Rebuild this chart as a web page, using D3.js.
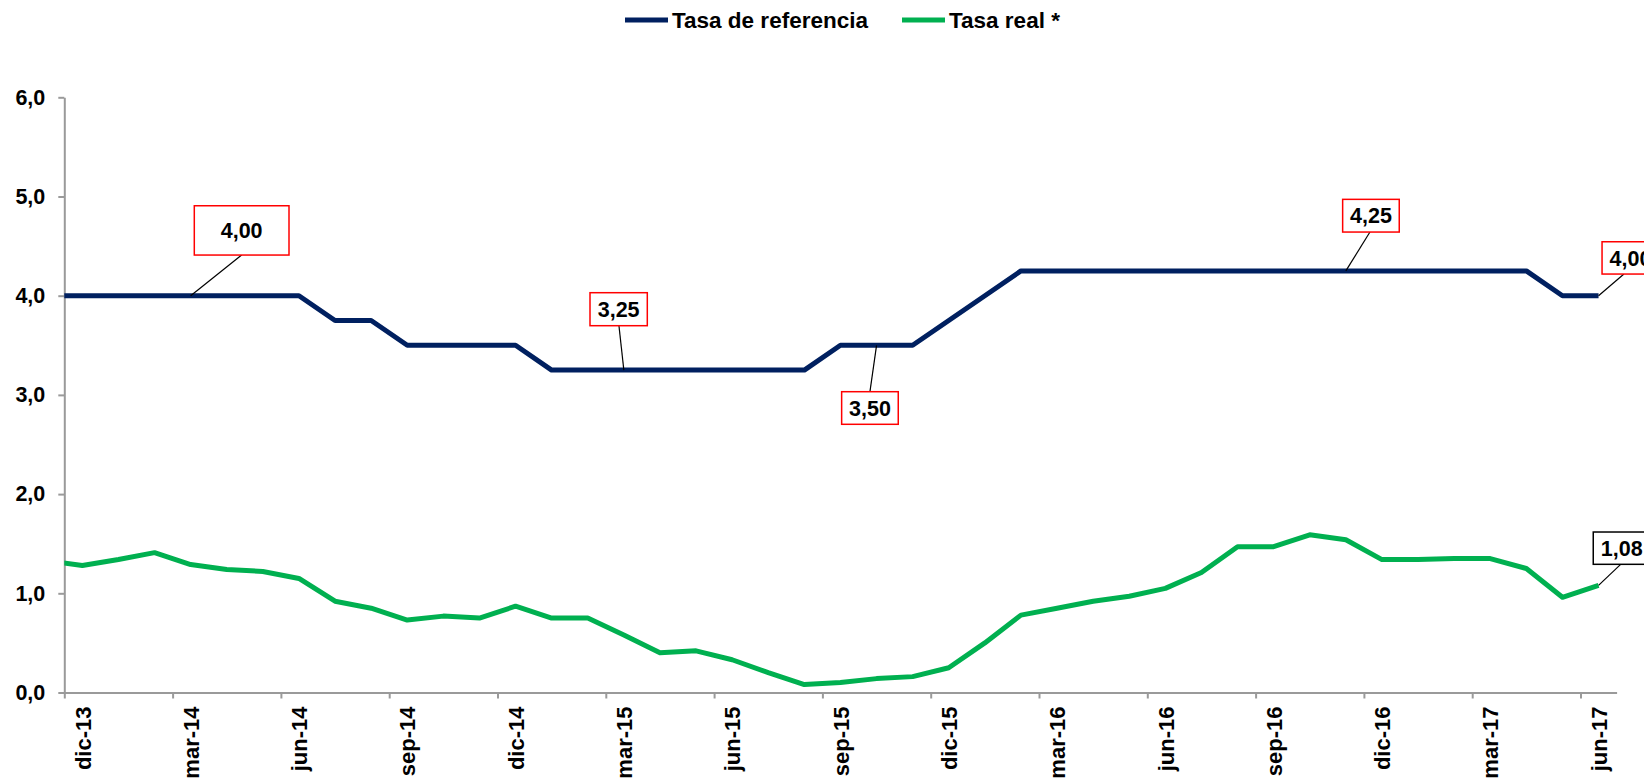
<!DOCTYPE html>
<html>
<head>
<meta charset="utf-8">
<script src="https://cdn.jsdelivr.net/npm/d3@7"></script>
<style>
  html, body { margin: 0; padding: 0; background: #ffffff; }
  svg { display: block; font-family: "Liberation Sans", Arial, sans-serif; font-weight: bold; }
</style>
</head>
<body>
<svg id="chart" width="1644" height="779"></svg>
<script>
// ---------------- DATA ----------------
// first month (nov-13) lies just left of the plot area and is clipped, as in the original
const months = ["nov-13",
  "dic-13","ene-14","feb-14","mar-14","abr-14","may-14","jun-14","jul-14","ago-14","sep-14","oct-14","nov-14",
  "dic-14","ene-15","feb-15","mar-15","abr-15","may-15","jun-15","jul-15","ago-15","sep-15","oct-15","nov-15",
  "dic-15","ene-16","feb-16","mar-16","abr-16","may-16","jun-16","jul-16","ago-16","sep-16","oct-16","nov-16",
  "dic-16","ene-17","feb-17","mar-17","abr-17","may-17","jun-17"];

const tasaReferencia = [4.00,
  4.00,4.00,4.00,4.00,4.00,4.00,4.00,3.75,3.75,3.50,3.50,3.50,
  3.50,3.25,3.25,3.25,3.25,3.25,3.25,3.25,3.25,3.50,3.50,3.50,
  3.75,4.00,4.25,4.25,4.25,4.25,4.25,4.25,4.25,4.25,4.25,4.25,
  4.25,4.25,4.25,4.25,4.25,4.00,4.00];

const tasaReal = [1.33,
  1.28,1.34,1.41,1.29,1.24,1.22,1.15,0.92,0.85,0.73,0.77,0.75,
  0.87,0.75,0.75,0.58,0.40,0.42,0.33,0.20,0.08,0.10,0.14,0.16,
  0.25,0.50,0.78,0.85,0.92,0.97,1.05,1.21,1.47,1.47,1.59,1.54,
  1.34,1.34,1.35,1.35,1.25,0.96,1.08];

const xTickLabels = ["dic-13","mar-14","jun-14","sep-14","dic-14","mar-15","jun-15","sep-15",
  "dic-15","mar-16","jun-16","sep-16","dic-16","mar-17","jun-17"];
const yTicks = [0, 1, 2, 3, 4, 5, 6];

const seriesNames = ["Tasa de referencia", "Tasa real *"];

// labelled points: series key + month
const labelled = [
  { series: "ref",  month: "mar-14" },
  { series: "ref",  month: "mar-15" },
  { series: "ref",  month: "oct-15" },
  { series: "ref",  month: "nov-16" },
  { series: "ref",  month: "jun-17" },
  { series: "real", month: "jun-17" }
];

// ---------------- LAYOUT / STYLE ----------------
const W = 1644, H = 779;
const plot = { left: 64.3, right: 1616.6, top: 97.3, bottom: 692.5 };
const colors = { ref: "#002060", real: "#00B050", axis: "#9a9a9a" };
// box placement relative to its point: centre offset, size, leader anchor relative to box centre
const labelLayout = [
  { dx: 51,   dy: -65.3, w: 94.7, h: 49.3, ax: 0,    ay: 24.65, border: "#ff0000" },
  { dx: -5.2, dy: -60.9, w: 57.3, h: 33,   ax: 0.3,  ay: 16.5,  border: "#ff0000" },
  { dx: -6.6, dy: 62.7,  w: 56.6, h: 32.6, ax: 0,    ay: -16.3, border: "#ff0000" },
  { dx: 25.1, dy: -55.2, w: 56.6, h: 32.7, ax: -1,   ay: 16.35, border: "#ff0000" },
  { dx: 32,   dy: -37.8, w: 57,   h: 32.3, ax: -6.6, ay: 16.15, border: "#ff0000" },
  { dx: 23.2, dy: -37.2, w: 57,   h: 32.3, ax: -1.1, ay: 16.15, border: "#000000" }
];

const svg = d3.select("#chart");

// index scale: month k occupies [k, k+1]; dic-13 (k=1) starts at the y axis
const x = d3.scaleLinear().domain([1, months.length]).range([plot.left, plot.right]);
const y = d3.scaleLinear().domain([0, 6]).range([plot.bottom, plot.top]);
const cx = k => x(k + 0.5);

const fmt1 = d => d3.format(".1f")(d).replace(".", ",");
const fmt2 = d => d3.format(".2f")(d).replace(".", ",");

// ---------------- AXES ----------------
const yAxis = d3.axisLeft(y).tickValues(yTicks).tickFormat(fmt1).tickSize(6).tickSizeOuter(0).tickPadding(13);
const gy = svg.append("g").attr("transform", `translate(${plot.left},0)`).call(yAxis);
gy.select(".domain").attr("stroke", colors.axis).attr("stroke-width", 2);
gy.selectAll(".tick line").attr("stroke", colors.axis).attr("stroke-width", 2);
gy.selectAll(".tick text").attr("fill", "#000").style("font-size", "21.5px").style("font-weight", "bold")
  .style("font-family", "'Liberation Sans', Arial, sans-serif");

const tickIdx = xTickLabels.map(l => months.indexOf(l));
const xAxis = d3.axisBottom(x).tickValues(tickIdx).tickFormat(k => months[k]).tickSize(6).tickSizeOuter(0);
const gx = svg.append("g").attr("transform", `translate(0,${plot.bottom})`).call(xAxis);
gx.select(".domain").attr("stroke", colors.axis).attr("stroke-width", 2);
gx.selectAll(".tick line").attr("stroke", colors.axis).attr("stroke-width", 2);
const bw = x(2) - x(1);
gx.selectAll(".tick text")
  .attr("fill", "#000")
  .style("font-size", "22px").style("font-weight", "bold")
  .style("font-family", "'Liberation Sans', Arial, sans-serif")
  .attr("text-anchor", "end")
  .attr("y", 0).attr("dy", "0.35em")
  .attr("transform", `translate(${bw / 2},14) rotate(-90)`);

// ---------------- LINES ----------------
svg.append("defs").append("clipPath").attr("id", "plotclip")
  .append("rect").attr("x", plot.left).attr("y", 0).attr("width", W - plot.left).attr("height", H);

const line = d3.line().x((d, i) => cx(i)).y(d => y(d));
const lines = svg.append("g").attr("clip-path", "url(#plotclip)");
lines.append("path").datum(tasaReal).attr("d", line)
  .attr("fill", "none").attr("stroke", colors.real).attr("stroke-width", 5)
  .attr("stroke-linejoin", "round");
lines.append("path").datum(tasaReferencia).attr("d", line)
  .attr("fill", "none").attr("stroke", colors.ref).attr("stroke-width", 5)
  .attr("stroke-linejoin", "round");

// ---------------- DATA LABELS ----------------
const seriesData = { ref: tasaReferencia, real: tasaReal };
const lab = svg.append("g");
labelled.forEach((a, j) => {
  const L = labelLayout[j];
  const k = months.indexOf(a.month);
  const v = seriesData[a.series][k];
  const px = cx(k), py = y(v);
  const bx = px + L.dx, by = py + L.dy;
  lab.append("line")
    .attr("x1", bx + L.ax).attr("y1", by + L.ay).attr("x2", px).attr("y2", py)
    .attr("stroke", "#000").attr("stroke-width", 1.2);
  lab.append("rect")
    .attr("x", bx - L.w / 2).attr("y", by - L.h / 2).attr("width", L.w).attr("height", L.h)
    .attr("fill", "#fff").attr("stroke", L.border).attr("stroke-width", 1.5);
  lab.append("text")
    .attr("x", bx).attr("y", by).attr("dy", "0.36em").attr("text-anchor", "middle")
    .style("font-size", "21.5px").attr("fill", "#000").text(fmt2(v));
});

// ---------------- LEGEND ----------------
const legend = [
  { name: seriesNames[0], color: colors.ref,  x: 625 },
  { name: seriesNames[1], color: colors.real, x: 902 }
];
const lg = svg.append("g");
legend.forEach(l => {
  lg.append("line").attr("x1", l.x).attr("x2", l.x + 43).attr("y1", 20).attr("y2", 20)
    .attr("stroke", l.color).attr("stroke-width", 5);
  lg.append("text").attr("x", l.x + 47).attr("y", 20).attr("dy", "0.36em")
    .style("font-size", "22.5px").attr("fill", "#000").text(l.name);
});
</script>
</body>
</html>
